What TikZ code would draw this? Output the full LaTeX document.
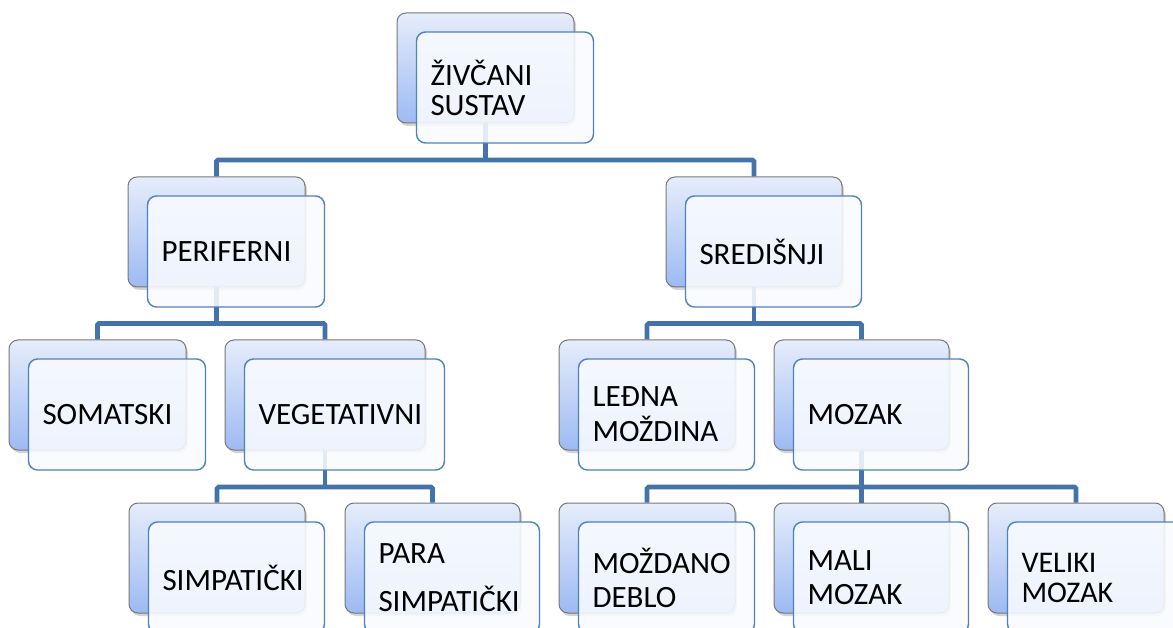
\documentclass[tikz,border=0pt]{standalone}
\usepackage{fontspec}
\setmainfont{Carlito}
\usetikzlibrary{shadows}
\definecolor{connblue}{HTML}{4472AA}
\definecolor{backtop}{HTML}{E6EDFB}
\definecolor{backbot}{HTML}{9DBAF3}
\definecolor{boxgray}{HTML}{777777}
\definecolor{frontblue}{HTML}{4F81BD}
\definecolor{frontfill}{HTML}{F9FBFF}
\tikzset{
  backbox/.style={draw=boxgray, line width=1pt, rounded corners=9pt,
    top color=backtop, bottom color=backbot, minimum height=110pt, inner sep=0pt,
    drop shadow={opacity=0.35, shadow xshift=2pt, shadow yshift=-3pt}},
  frontbox/.style={draw=frontblue, line width=1.4pt, rounded corners=9pt,
    fill=frontfill, fill opacity=0.88, text opacity=1, minimum height=111pt,
    align=left, inner xsep=14pt, inner ysep=0pt, text=black,
    font=\fontsize{31}{34}\selectfont},
  connline/.style={draw=connblue, line width=4.6pt, rounded corners=1.5pt},
}
\begin{document}
\begin{tikzpicture}[x=1pt, y=-1pt]
\useasboundingbox (0,0) rectangle (1173,628);
% back boxes
\node[backbox, minimum width=177pt] (rootb) at (485.5,68) {};
\node[backbox, minimum width=177pt] (perb) at (216.5,232) {};
\node[backbox, minimum width=176pt] (srdb) at (754,232) {};
\node[backbox, minimum width=177pt] (somb) at (97.5,395) {};
\node[backbox, minimum width=200pt] (vegb) at (325,395) {};
\node[backbox, minimum width=176pt] (ledb) at (647,395) {};
\node[backbox, minimum width=175pt] (mozb) at (861.5,395) {};
\node[backbox, minimum width=176pt] (simb) at (217,558) {};
\node[backbox, minimum width=175pt] (parab) at (432.5,558) {};
\node[backbox, minimum width=176pt] (mdbb) at (647,558) {};
\node[backbox, minimum width=175pt] (malib) at (861.5,558) {};
\node[backbox, minimum width=176pt] (velb) at (1076,558) {};
% junctions
\coordinate (j0) at (485.5,160);
\coordinate (j1) at (216.5,323.5);
\coordinate (j2) at (754,323.5);
\coordinate (j3) at (325,487);
\coordinate (j4) at (861.5,487);
% connectors
\draw[connline] (rootb.south) -- (j0);
\draw[connline] (perb.north) |- (j0) -| (srdb.north);
\draw[connline] (perb.south) -- (j1);
\draw[connline] (somb.north) |- (j1) -| (vegb.north);
\draw[connline] (srdb.south) -- (j2);
\draw[connline] (ledb.north) |- (j2) -| (mozb.north);
\draw[connline] (vegb.south) -- (j3);
\draw[connline] (simb.north) |- (j3) -| (parab.north);
\draw[connline] (mozb.south) -- (j4);
\draw[connline] (mdbb.north) |- (j4) -| (velb.north);
\draw[connline] (j4) -- (malib.north);
% front boxes
\node[frontbox, text width=149pt, font=\fontsize{31}{30}\selectfont] (root) at (505,87.5) {ŽIVČANI\\SUSTAV};
\node[frontbox, text width=149pt] (per) at (236,251.5) {PERIFERNI};
\node[frontbox, text width=148pt] (srd) at (773.5,251.5) {SREDIŠNJI};
\node[frontbox, text width=149pt] (som) at (117,414.5) {SOMATSKI};
\node[frontbox, text width=172pt] (veg) at (344.5,414.5) {VEGETATIVNI};
\node[frontbox, text width=148pt, font=\fontsize{31}{35}\selectfont] (led) at (666.5,414.5) {LEĐNA\\MOŽDINA};
\node[frontbox, text width=147pt] (moz) at (881,414.5) {MOZAK};
\node[frontbox, text width=148pt] (sim) at (236.5,577.5) {SIMPATIČKI};
\node[frontbox, text width=147pt, font=\fontsize{31}{48}\selectfont] (para) at (452,577.5) {PARA\\SIMPATIČKI};
\node[frontbox, text width=148pt, font=\fontsize{31}{34}\selectfont] (mdb) at (666.5,577.5) {MOŽDANO\\DEBLO};
\node[frontbox, text width=147pt, font=\fontsize{31}{34}\selectfont] (mali) at (881,577.5) {MALI\\MOZAK};
\node[frontbox, text width=148pt, font=\fontsize{30}{30}\selectfont] (vel) at (1095.5,577.5) {VELIKI\\MOZAK};
\end{tikzpicture}
\end{document}
